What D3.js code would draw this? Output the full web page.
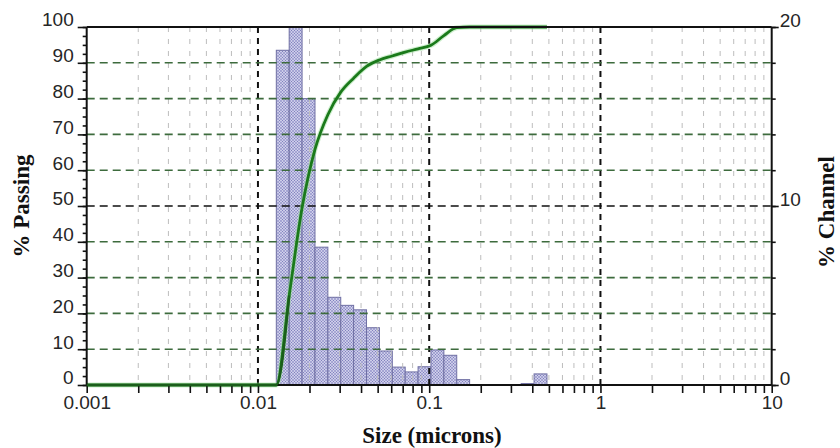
<!DOCTYPE html>
<html>
<head>
<meta charset="utf-8">
<script src="https://cdn.jsdelivr.net/npm/d3@7"></script>
<style>
  html, body { margin: 0; padding: 0; background: #ffffff; }
  svg { display: block; }
</style>
</head>
<body>
<svg id="chart" width="840" height="448"></svg>
<script>
// ---------------- DATA ----------------
// channel lower edges (microns); last value is the upper edge of the last channel
const channelEdges = [0.0128, 0.01522, 0.0181, 0.02153, 0.0256, 0.03044, 0.0362, 0.04305,
  0.0512, 0.06089, 0.07241, 0.08611, 0.1024, 0.1218, 0.1448, 0.1722, 0.2048, 0.2435,
  0.2896, 0.3444, 0.4096, 0.4871];
// % in each channel (right axis)
const channelPct = [18.7, 20, 16.0, 7.7, 4.9, 4.45, 4.2, 3.2, 1.9, 1.0, 0.73, 1.02,
  1.96, 1.66, 0.3, 0, 0, 0, 0, 0.08, 0.62];

// cumulative % passing curve (left axis)
const curveSizes = [0.001, 0.0128, 0.01522, 0.0181, 0.02153, 0.0256, 0.03044, 0.0362,
  0.04305, 0.0512, 0.06089, 0.07241, 0.08611, 0.1024, 0.1218, 0.1448, 0.1722, 0.4871];
const curvePassing = [0, 0, 25, 49.5, 65.8, 75.5, 81.8, 85.7, 89, 90.8, 91.9, 93.0,
  93.9, 94.9, 97.6, 99.8, 100, 100];

// ticks
const xTickValues = [0.001, 0.01, 0.1, 1, 10];
const xTickLabels = ["0.001", "0.01", "0.1", "1", "10"];
const yLeftTicks = [0, 10, 20, 30, 40, 50, 60, 70, 80, 90, 100];
const yRightTicks = [0, 10, 20];

// ---------------- LAYOUT ----------------
const svg = d3.select("#chart");
const L = 86.7, R = 771.7, T = 27, B = 385;

const x = d3.scaleLog().domain([0.001, 10]).range([L, R]);
const yL = d3.scaleLinear().domain([0, 100]).range([B, T]);
const yR = d3.scaleLinear().domain([0, 20]).range([B, T]);

// minor log values 2..9 per decade
const minorX = [];
[0.001, 0.01, 0.1, 1].forEach(d => { for (let k = 2; k <= 9; k++) minorX.push(d * k); });

// pattern for bars
const defs = svg.append("defs");
const pat = defs.append("pattern").attr("id", "chk").attr("patternUnits", "userSpaceOnUse")
  .attr("width", 3).attr("height", 3);
pat.append("rect").attr("width", 3).attr("height", 3).attr("fill", "#b3b3dc");
pat.append("rect").attr("x", 0).attr("y", 0).attr("width", 1).attr("height", 1).attr("fill", "#7f7fbd");
pat.append("rect").attr("x", 1.5).attr("y", 1.5).attr("width", 1).attr("height", 1).attr("fill", "#7f7fbd");
pat.append("rect").attr("x", 1.5).attr("y", 0).attr("width", 1).attr("height", 1).attr("fill", "#e8e8f6");
pat.append("rect").attr("x", 0).attr("y", 1.5).attr("width", 1).attr("height", 1).attr("fill", "#e8e8f6");

// ---------------- BARS ----------------
const bars = channelPct.map((v, i) => ({ x0: channelEdges[i], x1: channelEdges[i + 1], v }));
svg.append("g").selectAll("rect").data(bars.filter(d => d.v > 0)).join("rect")
  .attr("x", d => x(d.x0))
  .attr("y", d => yR(d.v))
  .attr("width", d => x(d.x1) - x(d.x0))
  .attr("height", d => yR(0) - yR(d.v))
  .attr("fill", "url(#chk)")
  .attr("stroke", "#6f6fa3")
  .attr("stroke-width", 1);

// ---------------- GRID ----------------
const grid = svg.append("g");
grid.selectAll("line.vmin").data(minorX).join("line")
  .attr("x1", d => x(d)).attr("x2", d => x(d)).attr("y1", T).attr("y2", B)
  .attr("stroke", "#bdbdbd").attr("stroke-width", 1).attr("stroke-dasharray", "5,7");
grid.selectAll("line.vmaj").data([0.01, 0.1, 1]).join("line")
  .attr("x1", d => x(d)).attr("x2", d => x(d)).attr("y1", T).attr("y2", B)
  .attr("stroke", "#111").attr("stroke-width", 2).attr("stroke-dasharray", "6,5");
grid.selectAll("line.h").data(yLeftTicks.filter(d => d > 0 && d < 100)).join("line")
  .attr("x1", L).attr("x2", R).attr("y1", d => yL(d)).attr("y2", d => yL(d))
  .attr("stroke", d => d === 50 ? "#111" : "#3d6b3d")
  .attr("stroke-width", 1.6).attr("stroke-dasharray", "8,5");

// ---------------- CURVE ----------------
const pts = curveSizes.map((s, i) => [x(s), yL(curvePassing[i])]);
const line = d3.line().curve(d3.curveMonotoneX);
svg.append("path").attr("d", line(pts)).attr("fill", "none")
  .attr("stroke", "#9ee09e").attr("stroke-width", 5).attr("stroke-opacity", 0.5);
svg.append("path").attr("d", line(pts)).attr("fill", "none")
  .attr("stroke", "#1b7a1b").attr("stroke-width", 2.8).attr("stroke-linejoin", "round");

// ---------------- AXES ----------------
const tickFont = "'Liberation Sans', Arial, sans-serif";
function styleAxis(g) {
  g.select(".domain").remove();
  g.selectAll("line").attr("stroke", "#111").attr("stroke-width", 1.6);
  g.selectAll("text").attr("font-family", tickFont).attr("font-size", 19).attr("fill", "#262626");
}

// left minor
svg.append("g").attr("transform", `translate(${L},0)`)
  .call(d3.axisLeft(yL).tickValues(d3.range(0, 100.01, 2.5)).tickSize(4).tickFormat(""))
  .call(styleAxis);
// left major
const gl = svg.append("g").attr("transform", `translate(${L},0)`)
  .call(d3.axisLeft(yL).tickValues(yLeftTicks).tickSize(9).tickPadding(4).tickFormat(d => String(d)))
  .call(styleAxis);
gl.selectAll("text").attr("dy", "0.1em").attr("y", -3);

// right minor
svg.append("g").attr("transform", `translate(${R},0)`)
  .call(d3.axisRight(yR).tickValues(d3.range(0, 20.01, 2)).tickSize(4).tickFormat(""))
  .call(styleAxis);
const gr = svg.append("g").attr("transform", `translate(${R},0)`)
  .call(d3.axisRight(yR).tickValues(yRightTicks).tickSize(7).tickPadding(1).tickFormat(d => String(d)))
  .call(styleAxis);
gr.selectAll("text").attr("dy", "0.1em").attr("y", -2);

// bottom minor
svg.append("g").attr("transform", `translate(0,${B})`)
  .call(d3.axisBottom(x).tickValues(minorX).tickSize(8).tickFormat(""))
  .call(styleAxis);
const gb = svg.append("g").attr("transform", `translate(0,${B})`)
  .call(d3.axisBottom(x).tickValues(xTickValues).tickSize(8).tickPadding(3)
    .tickFormat((d, i) => xTickLabels[i]))
  .call(styleAxis);

// frame lines
const frame = svg.append("g").attr("stroke", "#111").attr("stroke-width", 2);
frame.append("line").attr("x1", L).attr("x2", R).attr("y1", T).attr("y2", T);
frame.append("line").attr("x1", L).attr("x2", L).attr("y1", T).attr("y2", B);
frame.append("line").attr("x1", R).attr("x2", R).attr("y1", T).attr("y2", B);
frame.append("line").attr("x1", L).attr("x2", R).attr("y1", B).attr("y2", B);

// redraw zero part of curve over axis
svg.append("path").attr("d", line(pts.slice(0, 3))).attr("fill", "none")
  .attr("stroke", "#1b5e1b").attr("stroke-width", 2.4);

// ---------------- TITLES ----------------
const titleFont = "'Liberation Serif', 'Times New Roman', serif";
svg.append("text").attr("transform", "translate(29,206) rotate(-90)")
  .attr("text-anchor", "middle").attr("font-family", titleFont).attr("font-weight", "bold")
  .attr("font-size", 23).attr("fill", "#111").text("% Passing");
svg.append("text").attr("transform", "translate(834,212) rotate(-90)")
  .attr("text-anchor", "middle").attr("font-family", titleFont).attr("font-weight", "bold")
  .attr("font-size", 23).attr("fill", "#111").text("% Channel");
svg.append("text").attr("x", 432).attr("y", 443)
  .attr("text-anchor", "middle").attr("font-family", titleFont).attr("font-weight", "bold")
  .attr("font-size", 23).attr("fill", "#111").text("Size (microns)");
</script>
</body>
</html>
